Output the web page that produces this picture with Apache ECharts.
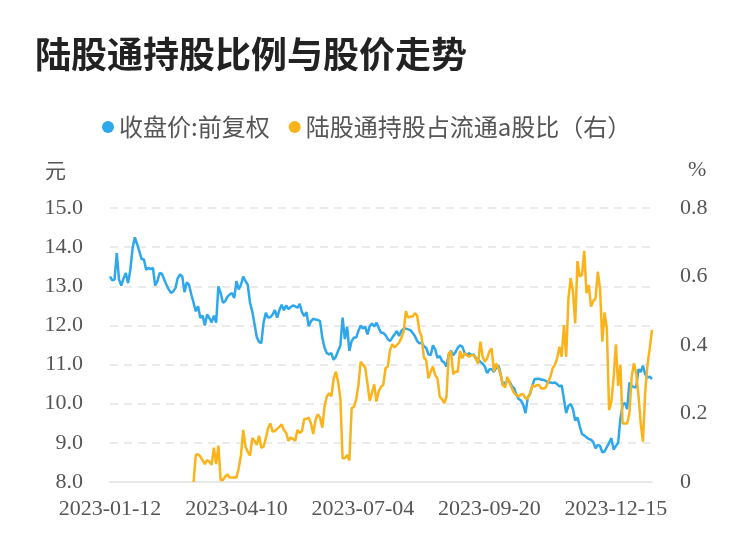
<!DOCTYPE html>
<html>
<head>
<meta charset="utf-8">
<script src="https://cdn.jsdelivr.net/npm/echarts@6/dist/echarts.min.js"></script>
<style>html,body{margin:0;padding:0;background:#fff}#c{width:750px;height:558px}</style>
</head>
<body>
<div id="c"></div>
<script>
// Trading days (categories), grouped by month
const tradingDays = [
  ['2023-01', [12,13,16,17,18,19,20,30,31]],
  ['2023-02', [1,2,3,6,7,8,9,10,13,14,15,16,17,20,21,22,23,24,27,28]],
  ['2023-03', [1,2,3,6,7,8,9,10,13,14,15,16,17,20,21,22,23,24,27,28,29,30,31]],
  ['2023-04', [3,4,6,7,10,11,12,13,14,17,18,19,20,21,24,25,26,27,28]],
  ['2023-05', [4,5,8,9,10,11,12,15,16,17,18,19,22,23,24,25,26,29,30,31]],
  ['2023-06', [1,2,5,6,7,8,9,12,13,14,15,16,19,20,21,26,27,28,29,30]],
  ['2023-07', [3,4,5,6,7,10,11,12,13,14,17,18,19,20,21,24,25,26,27,28,31]],
  ['2023-08', [1,2,3,4,7,8,9,10,11,14,15,16,17,18,21,22,23,24,25,28,29,30,31]],
  ['2023-09', [1,4,5,6,7,8,11,12,13,14,15,18,19,20,21,22,25,26,27,28]],
  ['2023-10', [9,10,11,12,13,16,17,18,19,20,23,24,25,26,27,30,31]],
  ['2023-11', [1,2,3,6,7,8,9,10,13,14,15,16,17,20,21,22,23,24,27,28,29,30]],
  ['2023-12', [1,4,5,6,7,8,11,12,13,14,15,18,19,20,21,22,25,26,27,28,29]],
  ['2024-01', [2,3,4,5,8,9]]
];

// 收盘价:前复权 (元)
const closePrice = [
  13.25,13.15,13.17,13.85,13.17,13.02,13.2,13.34,13.08,13.42,
  13.97,14.25,14.08,13.89,13.69,13.69,13.42,13.47,13.44,13.47,
  13.02,13.13,13.34,13.32,13.17,13.04,12.92,12.83,12.87,12.96,
  13.21,13.3,13.25,12.85,13.1,13.04,12.79,12.58,12.36,12.49,
  12.19,12.25,12.0,12.28,12.19,12.08,12.25,12.07,13.0,12.83,
  12.58,12.62,12.73,12.79,12.83,12.7,13.13,12.92,13.04,13.25,
  13.13,13.04,12.58,12.36,12.03,11.7,11.58,11.55,12.07,12.32,
  12.2,12.21,12.28,12.39,12.2,12.39,12.53,12.39,12.51,12.42,
  12.47,12.51,12.49,12.45,12.55,12.34,12.24,12.34,11.98,12.11,
  12.17,12.15,12.14,12.11,11.69,11.43,11.29,11.26,11.29,11.12,
  11.2,11.35,11.48,12.2,11.65,11.97,11.35,11.6,11.69,11.69,
  11.86,12.0,11.92,11.97,11.77,11.98,12.05,11.97,12.07,11.94,
  11.81,11.81,11.75,11.65,11.6,11.69,11.77,11.86,11.73,11.86,
  11.92,11.92,11.9,11.88,11.81,11.73,11.6,11.54,11.56,
  11.47,11.43,11.26,11.24,11.49,11.39,11.17,11.22,11.09,11.05,
  10.95,11.26,11.35,11.24,11.32,11.43,11.49,11.46,11.3,11.24,
  11.29,11.24,11.26,11.17,11.13,11.07,11.02,10.95,10.78,10.88,
  10.88,10.81,10.92,10.98,10.75,10.46,10.54,10.58,10.56,10.44,
  10.39,10.22,10.12,10.08,9.97,9.76,10.16,10.25,10.46,10.63,
  10.63,10.64,10.61,10.61,10.58,10.54,10.54,10.53,10.54,10.5,
  10.44,10.47,10.12,9.76,9.95,9.99,9.86,9.57,9.65,9.42,
  9.23,9.19,9.14,9.1,9.08,9.02,8.86,8.95,8.92,8.76,
  8.78,8.89,9.0,9.12,8.83,8.92,9.0,9.61,9.97,10.02,
  9.86,10.54,10.46,10.42,10.42,10.88,10.81,10.97,10.75,10.67,
  10.69,10.63
];

// 陆股通持股占流通a股比（右） (%)
const holdRatio = [
  null,null,null,null,null,null,null,null,null,null,
  null,null,null,null,null,null,null,null,null,null,
  null,null,null,null,null,null,null,null,null,null,
  null,null,null,null,null,null,null,0.0,0.079,0.081,
  0.074,0.064,0.052,0.064,0.06,0.05,0.1,0.052,0.106,0.005,
  0.006,0.016,0.022,0.013,0.013,0.013,0.013,0.04,0.079,0.152,
  0.103,0.088,0.077,0.128,0.12,0.108,0.135,0.1,0.103,0.128,
  0.157,0.171,0.147,0.149,0.155,0.161,0.168,0.152,0.143,0.12,
  0.13,0.126,0.12,0.152,0.143,0.149,0.184,0.184,0.188,0.171,
  0.14,0.181,0.198,0.188,0.159,0.22,0.249,0.259,0.25,0.30,
  0.322,0.293,0.244,0.069,0.069,0.079,0.063,0.215,0.22,0.24,
  0.283,0.351,0.342,0.334,0.288,0.237,0.26,0.285,0.235,0.264,
  0.278,0.283,0.332,0.337,0.385,0.402,0.393,0.4,0.407,0.42,
  0.439,0.499,0.48,0.483,0.483,0.493,0.486,0.441,0.424,
  0.363,0.356,0.303,0.322,0.337,0.312,0.303,0.249,0.242,0.23,
  0.249,0.376,0.381,0.315,0.322,0.322,0.383,0.361,0.376,0.371,
  0.366,0.371,0.371,0.359,0.345,0.41,0.366,0.351,0.361,0.381,
  0.39,0.322,0.346,0.332,0.312,0.283,0.276,0.307,0.288,0.273,
  0.259,0.254,0.249,0.256,0.256,0.244,0.244,0.259,0.283,0.278,
  0.283,0.283,0.273,0.273,0.276,0.293,0.307,0.332,0.342,0.361,
  0.395,0.366,0.458,0.366,0.536,0.595,0.556,0.463,0.645,0.6,
  0.605,0.675,0.551,0.575,0.512,0.528,0.536,0.614,0.563,0.41,
  0.495,0.449,0.21,0.234,0.303,0.402,0.281,0.342,0.171,0.171,
  0.171,0.2,0.307,0.347,0.317,0.254,0.171,0.118,0.264,0.342,
  0.39,0.444
];

const seriesNames = ['收盘价:前复权', '陆股通持股占流通a股比（右）'];
const labelEvery = 56;

const dates = [];
tradingDays.forEach(([m, days]) => days.forEach(d => dates.push(m + '-' + String(d).padStart(2, '0'))));

const chart = echarts.init(document.getElementById('c'), null, {renderer: 'canvas'});
const axisFont = 'Liberation Serif';
const cjk = '"Noto Sans CJK SC", "Noto Sans", sans-serif';
chart.setOption({
  animation: false,
  color: ['#2ea7ec', '#fbb31b'],
  title: {
    text: '陆股通持股比例与股价走势',
    left: 30, top: 31,
    textStyle: {fontFamily: cjk, fontSize: 36, fontWeight: 'bold', color: '#222'}
  },
  legend: {
    left: 97, top: 110,
    icon: 'circle', itemWidth: 12, itemHeight: 12, itemGap: 19,
    textStyle: {fontFamily: cjk, fontSize: 24, color: '#555'},
    data: seriesNames
  },
  grid: {left: 110, right: 98, top: 208, bottom: 76},
  xAxis: {
    type: 'category',
    data: dates,
    boundaryGap: false,
    axisLine: {lineStyle: {color: '#e8e8e8', width: 2}},
    axisTick: {show: false},
    axisLabel: {
      interval: (idx) => idx % labelEvery === 0,
      margin: 16, fontFamily: axisFont, fontSize: 22, color: '#555'
    }
  },
  yAxis: [{
    type: 'value', min: 8, max: 15, interval: 1,
    name: '元',
    nameGap: 27,
    nameTextStyle: {fontFamily: cjk, fontSize: 21, color: '#555', align: 'right', padding: [0, 44, 0, 0]},
    axisLine: {show: false}, axisTick: {show: false},
    axisLabel: {margin: 27, fontFamily: axisFont, fontSize: 22, color: '#555', formatter: v => v.toFixed(1)},
    splitLine: {lineStyle: {color: '#ebebeb', width: 2, type: [8, 6]}}
  }, {
    type: 'value', min: 0, max: 0.8, interval: 0.2,
    name: '%',
    nameGap: 27,
    nameTextStyle: {fontFamily: axisFont, fontSize: 22, color: '#555', align: 'left', padding: [0, 0, 0, 36]},
    axisLine: {show: false}, axisTick: {show: false},
    axisLabel: {margin: 28, fontFamily: axisFont, fontSize: 22, color: '#555', formatter: v => v === 0 ? '0' : v.toFixed(1)},
    splitLine: {show: false}
  }],
  series: [{
    name: seriesNames[0], type: 'line', data: closePrice, yAxisIndex: 0,
    showSymbol: false, lineStyle: {width: 2.5}
  }, {
    name: seriesNames[1], type: 'line', data: holdRatio, yAxisIndex: 1,
    showSymbol: false, lineStyle: {width: 2.5}
  }]
});
</script>
</body>
</html>
